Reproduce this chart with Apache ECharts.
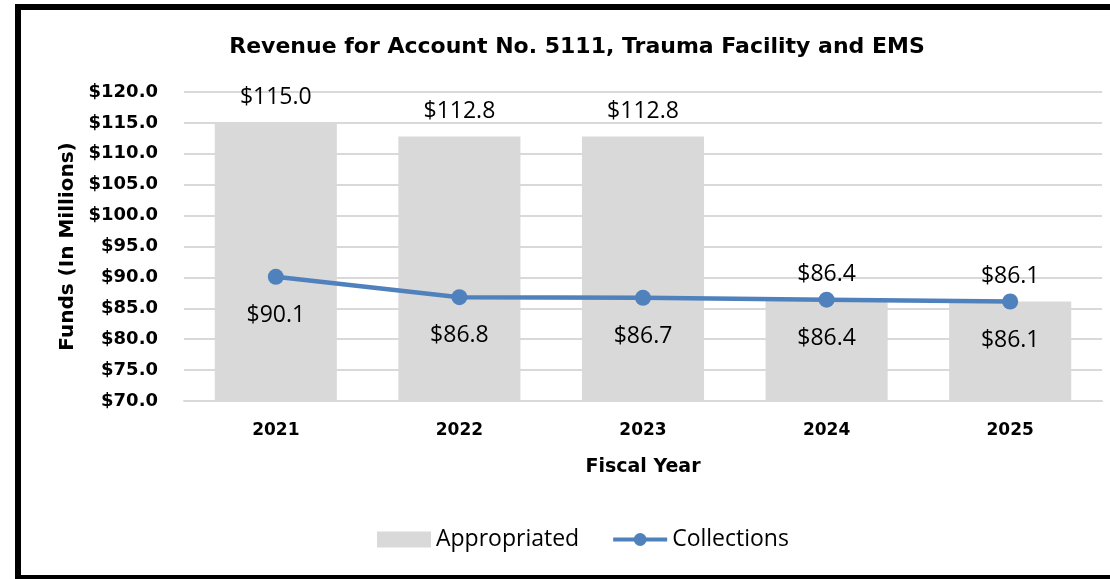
<!DOCTYPE html>
<html>
<head>
  <meta charset="utf-8">
  <title>Revenue for Account No. 5111</title>
  <script src="https://cdn.jsdelivr.net/npm/echarts@6/dist/echarts.min.js"></script>
  <style>
    body { margin: 0; background: #fff; }
    #main { position: absolute; left: 0; top: 0; width: 1110px; height: 579px; }
    #frame {
      position: absolute; left: 15px; top: 4px; width: 1120px; height: 565px;
      border: 6px solid #000; pointer-events: none;
    }
  </style>
</head>
<body>
  <div id="main"></div>
  <div id="frame"></div>
  <script>
    var years = ['2021', '2022', '2023', '2024', '2025'];
    var appropriated = [115.0, 112.8, 112.8, 86.4, 86.1];
    var collections = [90.1, 86.8, 86.7, 86.4, 86.1];

    var chart = echarts.init(document.getElementById('main'));

    function money(p) {
      return '$' + Number(p.value).toFixed(1);
    }

    var option = {
      animation: false,
      title: {
        text: 'Revenue for Account No. 5111, Trauma Facility and EMS',
        left: 572,
        textAlign: 'center',
        top: 31,
        textStyle: { fontFamily: 'DejaVu Sans', fontWeight: 'bold', fontSize: 22, color: '#000' }
      },
      grid: { left: 184, right: 8, top: 92, bottom: 178 },
      legend: {
        top: 523,
        left: 372,
        itemGap: 32,
        itemWidth: 54,
        itemHeight: 16,
        textStyle: { fontFamily: 'Open Sans', fontSize: 23, color: '#000' },
        data: [
          { name: 'Appropriated', icon: 'rect' },
          { name: 'Collections', lineStyle: { width: 4 } }
        ]
      },
      xAxis: {
        type: 'category',
        data: years,
        name: 'Fiscal Year',
        nameLocation: 'middle',
        nameGap: 57,
        nameTextStyle: { fontFamily: 'DejaVu Sans', fontWeight: 'bold', fontSize: 19, color: '#000' },
        axisLine: { lineStyle: { color: '#d9d9d9', width: 2 } },
        axisTick: { show: false },
        axisLabel: { fontFamily: 'DejaVu Sans', fontWeight: 'bold', fontSize: 17, color: '#000', margin: 21 }
      },
      yAxis: {
        type: 'value',
        min: 70,
        max: 120,
        interval: 5,
        name: 'Funds (In Millions)',
        nameLocation: 'middle',
        nameGap: 106,
        nameTextStyle: { fontFamily: 'DejaVu Sans', fontWeight: 'bold', fontSize: 20, color: '#000' },
        axisLine: { show: false },
        axisTick: { show: false },
        splitLine: { lineStyle: { color: '#d9d9d9', width: 2 } },
        axisLabel: {
          fontFamily: 'DejaVu Sans', fontWeight: 'bold', fontSize: 18, color: '#000', margin: 26,
          formatter: function (v) { return '$' + v.toFixed(1); }
        }
      },
      series: [
        {
          name: 'Appropriated',
          type: 'bar',
          data: appropriated,
          barCategoryGap: '33.5%',
          itemStyle: { color: '#d9d9d9' },
          label: {
            show: true, position: 'top', distance: 14,
            fontFamily: 'Open Sans', fontSize: 23, color: '#000',
            formatter: money
          }
        },
        {
          name: 'Collections',
          type: 'line',
          data: collections,
          symbol: 'circle',
          symbolSize: 16,
          lineStyle: { color: '#4f81bd', width: 4.5 },
          itemStyle: { color: '#4f81bd' },
          label: {
            show: true, position: 'bottom', distance: 19,
            fontFamily: 'Open Sans', fontSize: 23, color: '#000',
            formatter: money
          }
        }
      ]
    };

    chart.setOption(option);
  </script>
</body>
</html>
